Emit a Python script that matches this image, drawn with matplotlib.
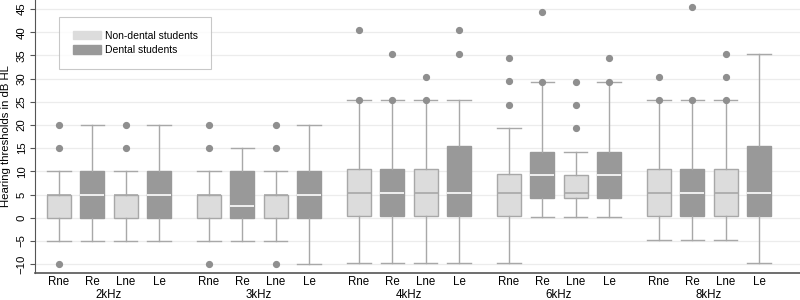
import matplotlib
matplotlib.use('Agg')
import matplotlib.pyplot as plt
from matplotlib.patches import Patch

plt.rcParams['font.family'] = ['Liberation Sans', 'DejaVu Sans']

freqs = ['2kHz', '3kHz', '4kHz', '6kHz', '8kHz']
ears = ['Rne', 'Re', 'Lne', 'Le']
dental = [False, True, False, True]

# per box: whislo, q1, med, q3, whishi, outliers
whislo = [-5, -5, -5, -5,
          -5, -5, -5, -10,
          -9.7, -9.7, -9.7, -9.7,
          -9.7, 0.2, 0.2, 0.2,
          -4.7, -4.7, -4.7, -9.7]
q1 = [0, 0, 0, 0,
      0, 0, 0, 0,
      0.3, 0.3, 0.3, 0.3,
      0.3, 4.3, 4.3, 4.3,
      0.3, 0.3, 0.3, 0.3]
med = [5, 5, 5, 5,
       5, 2.5, 5, 5,
       5.4, 5.4, 5.4, 5.4,
       5.4, 9.3, 5.3, 9.3,
       5.4, 5.4, 5.4, 5.4]
q3 = [5, 10, 5, 10,
      5, 10, 5, 10,
      10.4, 10.4, 10.4, 15.4,
      9.4, 14.2, 9.3, 14.2,
      10.4, 10.4, 10.4, 15.4]
whishi = [10, 20, 10, 20,
          10, 15, 10, 20,
          25.4, 25.4, 25.4, 25.4,
          19.4, 29.3, 14.2, 29.3,
          25.4, 25.4, 25.4, 35.4]
fliers = [[15, 20, -10], [], [15, 20], [],
          [15, 20, -10], [], [15, 20, -10], [],
          [25.4, 40.4], [25.4, 35.4], [25.4, 30.4], [35.4, 40.4],
          [24.4, 29.4, 34.4], [29.3, 44.3], [19.3, 24.4, 29.3], [29.3, 34.4],
          [25.4, 30.4], [25.4, 45.4], [25.4, 30.4, 35.4], []]

light = '#dcdcdc'
dark = '#999999'
edge = '#a8a8a8'

fig = plt.figure(figsize=(8, 3), dpi=100)
ax = fig.add_axes([0.04375, 0.091, 0.95625, 0.909])

positions = []
for g in range(len(freqs)):
    for i in range(len(ears)):
        positions.append(g * 4.5 + i)

for k in range(len(positions)):
    stats = [dict(whislo=whislo[k], q1=q1[k], med=med[k], q3=q3[k],
                  whishi=whishi[k], fliers=fliers[k])]
    is_d = dental[k % 4]
    ax.bxp(stats, positions=[positions[k]], widths=0.72, patch_artist=True,
           showfliers=True, manage_ticks=False,
           boxprops=dict(facecolor=dark if is_d else light,
                         edgecolor=dark if is_d else edge, linewidth=1.0),
           medianprops=dict(color='white' if is_d else edge, linewidth=1.2),
           whiskerprops=dict(color=edge, linewidth=1.0),
           capprops=dict(color=edge, linewidth=1.0),
           capwidths=0.7,
           flierprops=dict(marker='o', markersize=4.2, markerfacecolor='#8f8f8f',
                           markeredgecolor='#8f8f8f'),
           zorder=3)

ax.set_xlim(-0.72, 22.23)
ax.set_ylim(-11.85, 46.94)
ax.set_yticks(range(-10, 50, 5))
ax.tick_params(axis='y', labelrotation=90, labelsize=8.2, length=3.5, pad=2.5,
               color='#555555')
for lab in ax.get_yticklabels():
    lab.set_va('center')
ax.yaxis.grid(True, color='#ececec', linewidth=0.9, zorder=0)
ax.set_axisbelow(True)

ax.set_xticks(positions)
ax.set_xticklabels(ears * len(freqs), fontsize=8.3)
ax.tick_params(axis='x', length=0, pad=2.5)
for g in range(len(freqs)):
    ax.annotate(freqs[g], xy=(g * 4.5 + 1.5, 0), xycoords=('data', 'axes fraction'),
                xytext=(0, -16), textcoords='offset points',
                ha='center', va='center', fontsize=8.3)

ax.set_ylabel('Hearing thresholds in dB HL', fontsize=8.2)
ax.yaxis.set_label_coords(-0.031, 0.5)

for s in ['top', 'right']:
    ax.spines[s].set_visible(False)
ax.spines['left'].set_color('#555555')
ax.spines['bottom'].set_color('#555555')
ax.spines['bottom'].set_linewidth(1.2)

handles = [Patch(facecolor=light, edgecolor=light, label='Non-dental students'),
           Patch(facecolor=dark, edgecolor=dark, label='Dental students')]
leg = ax.legend(handles=handles, loc='upper left', bbox_to_anchor=(0.0314, 0.9377),
                fontsize=7.5, frameon=True, fancybox=False, borderpad=1.3,
                handlelength=2.7, handleheight=0.87, labelspacing=0.45,
                handletextpad=0.4, borderaxespad=0)
leg.get_frame().set_edgecolor('#bbbbbb')
leg.get_frame().set_linewidth(0.8)

fig.savefig('out.png', dpi=100)
